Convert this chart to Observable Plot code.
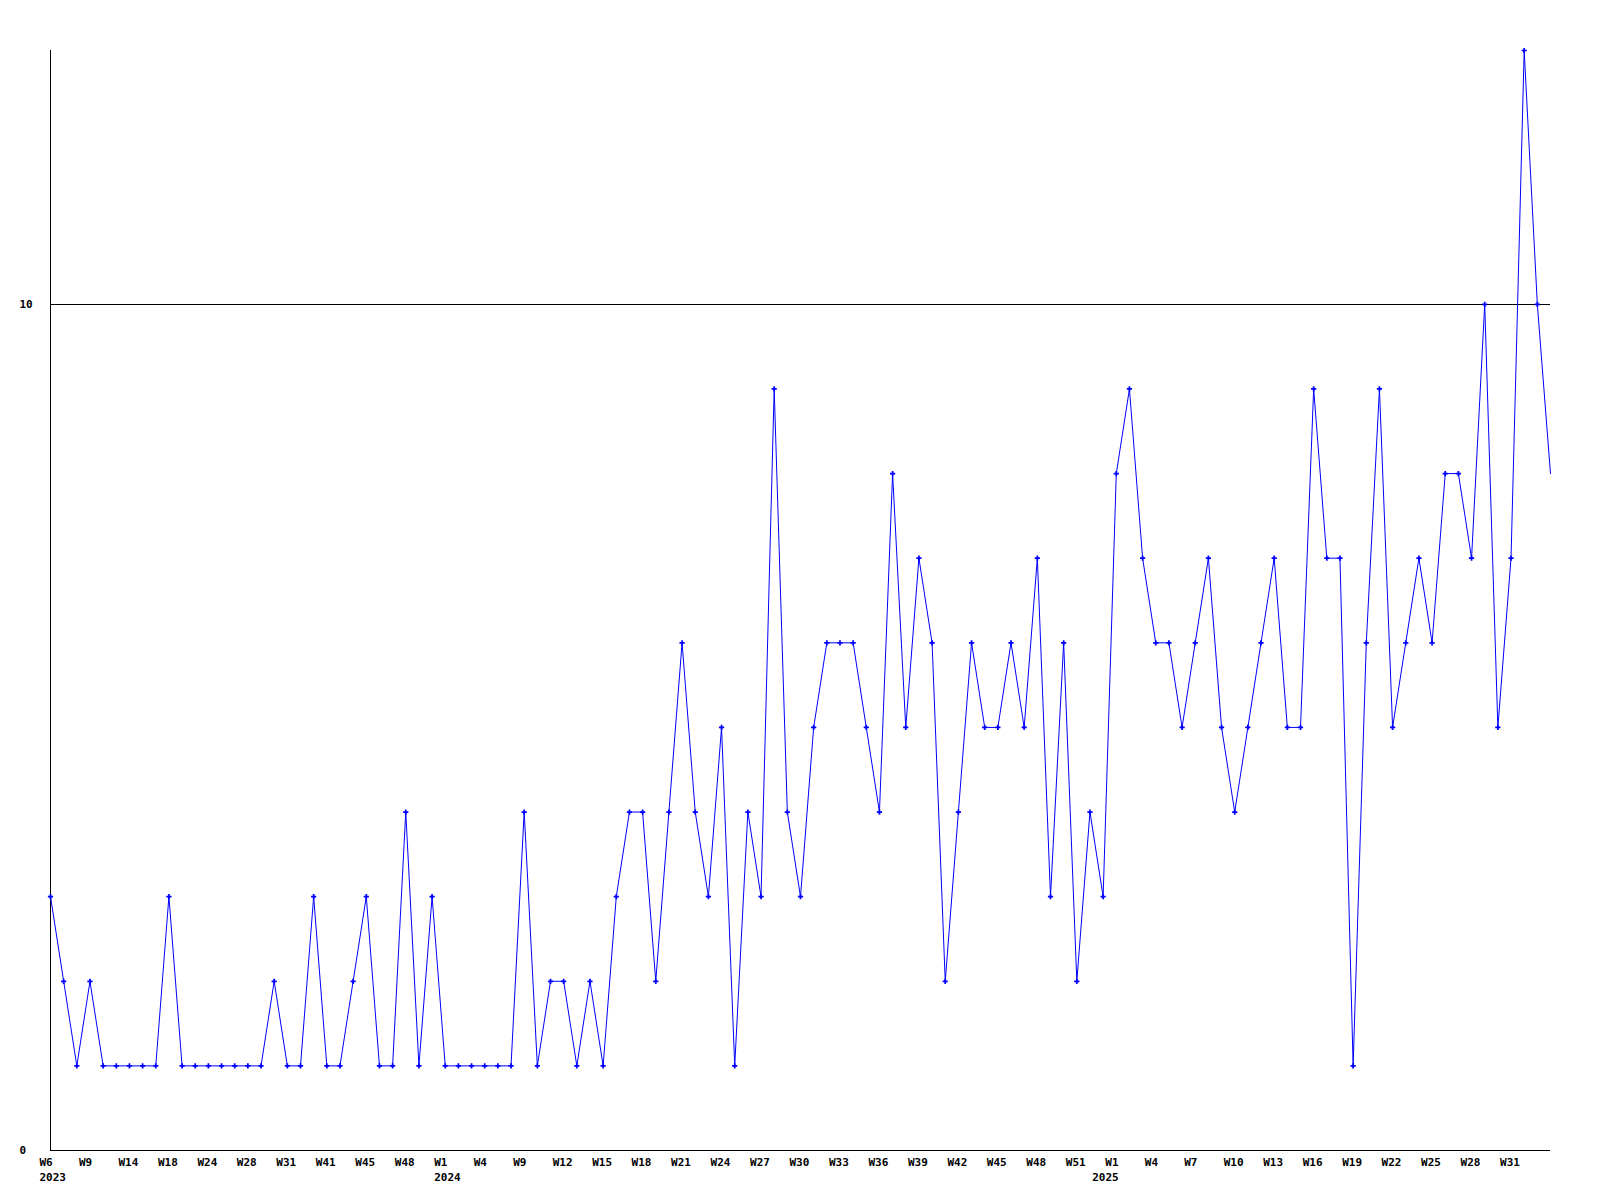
<!DOCTYPE html>
<html>
<head>
<meta charset="utf-8">
<script src="https://cdn.jsdelivr.net/npm/d3@7"></script>
<script src="https://cdn.jsdelivr.net/npm/@observablehq/plot@0.6"></script>
<style>
  html, body { margin: 0; padding: 0; background: #ffffff; }
  #chart svg { display: block; }
</style>
</head>
<body>
<div id="chart"></div>
<script>
// Week number of each point (weeks without data are absent)
const weeks = [
  6, 7, 8, 9, 11, 13, 14, 15, 17, 18, 20, 22, 24, 25, 26, 28, 29, 30, 31, 35, 38, 41, 42, 44, 45, 46, 47, 48, 50, 51,
  1, 2, 3, 4, 6, 8, 9, 10, 11, 12, 13, 14, 15, 16, 17, 18, 19, 20, 21, 22, 23, 24, 25, 26, 27, 28, 29, 30, 31, 32,
  33, 34, 35, 36, 37, 38, 39, 40, 41, 42, 43, 44, 45, 46, 47, 48, 49, 50, 51, 52,
  0, 1, 2, 3, 4, 5, 6, 7, 8, 9, 10, 11, 12, 13, 14, 15, 16, 17, 18, 19, 20, 21, 22, 23, 24, 25, 26, 27, 28, 29,
  30, 31, 32, 33, 34
];
const years = [
  2023, 2023, 2023, 2023, 2023, 2023, 2023, 2023, 2023, 2023, 2023, 2023, 2023, 2023, 2023,
  2023, 2023, 2023, 2023, 2023, 2023, 2023, 2023, 2023, 2023, 2023, 2023, 2023, 2023, 2023,
  2024, 2024, 2024, 2024, 2024, 2024, 2024, 2024, 2024, 2024, 2024, 2024, 2024, 2024, 2024,
  2024, 2024, 2024, 2024, 2024, 2024, 2024, 2024, 2024, 2024, 2024, 2024, 2024, 2024, 2024,
  2024, 2024, 2024, 2024, 2024, 2024, 2024, 2024, 2024, 2024, 2024, 2024, 2024, 2024, 2024,
  2024, 2024, 2024, 2024, 2024,
  2025, 2025, 2025, 2025, 2025, 2025, 2025, 2025, 2025, 2025, 2025, 2025, 2025, 2025, 2025,
  2025, 2025, 2025, 2025, 2025, 2025, 2025, 2025, 2025, 2025, 2025, 2025, 2025, 2025, 2025,
  2025, 2025, 2025, 2025, 2025
];
const counts = [
  3, 2, 1, 2, 1, 1, 1, 1, 1, 3, 1, 1, 1, 1, 1, 1, 1, 2, 1, 1, 3, 1, 1, 2, 3, 1, 1, 4, 1, 3,
  1, 1, 1, 1, 1, 1, 4, 1, 2, 2, 1, 2, 1, 3, 4, 4, 2, 4, 6, 4, 3, 5, 1, 4, 3, 9, 4, 3, 5, 6,
  6, 6, 5, 4, 8, 5, 7, 6, 2, 4, 6, 5, 5, 6, 5, 7, 3, 6, 2, 4,
  3, 8, 9, 7, 6, 6, 5, 6, 7, 5, 4, 5, 6, 7, 5, 5, 9, 7, 7, 1, 6, 9, 5, 6, 7, 6, 8, 8, 7, 10,
  5, 7, 13, 10, 8
];
const yTicks = [0, 10];
const yMax = 13;
const labelEvery = 3;

const data = counts.map((c, i) => ({ i, c, week: weeks[i], year: years[i] }));
const last = counts.length - 1;
// the newest (partial) week sits on the right edge: no marker, no label
const xTicks = data.filter(d => d.i % labelEvery === 0 && d.i < last).map(d => d.i);
const yearStarts = data.filter((d, k) => k === 0 || years[k - 1] !== d.year);
const marked = data.filter(d => d.i < last);

const blue = "#0000ff";
const font = "DejaVu Sans Mono, monospace";

const chart = Plot.plot({
  width: 1600,
  height: 1200,
  marginLeft: 50,
  marginRight: 50,
  marginTop: 50,
  marginBottom: 50,
  style: { fontFamily: font, fontSize: "11px", fontWeight: "bold", color: "#000", background: "#fff" },
  x: { type: "linear", domain: [0, last] },
  y: { type: "linear", domain: [0, yMax] },
  marks: [
    Plot.ruleY([10], { stroke: "#000", strokeWidth: 1, shapeRendering: "crispEdges" }),
    Plot.ruleY([0], { stroke: "#000", strokeWidth: 1, shapeRendering: "crispEdges" }),
    Plot.ruleX([0], { y1: 0, y2: yMax, stroke: "#000", strokeWidth: 1, shapeRendering: "crispEdges" }),
    Plot.axisY({ ticks: yTicks, tickSize: 0, tickPadding: 31, textAnchor: "start", label: null, tickFormat: d => String(d) }),
    Plot.axisX({ ticks: xTicks, tickSize: 0, tickPadding: 8, textAnchor: "start", dx: -11, label: null,
      tickFormat: i => "W" + weeks[i] }),
    Plot.text(yearStarts, { x: "i", y: 0, text: d => String(d.year), dy: 27, dx: -11, textAnchor: "start",
      lineAnchor: "middle", fill: "#000", fontWeight: "bold" }),
    Plot.line(data, { x: "i", y: "c", stroke: blue, strokeWidth: 1 }),
    Plot.dot(marked, { x: "i", y: "c", symbol: "cross", r: 2.2, fill: blue, stroke: "none" })
  ]
});
document.getElementById("chart").appendChild(chart);
</script>
</body>
</html>
